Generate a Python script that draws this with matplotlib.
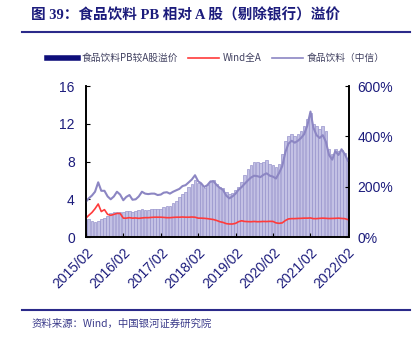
import numpy as np
import pandas as pd
import matplotlib
matplotlib.use("Agg")
import matplotlib.pyplot as plt
import matplotlib.dates as mdates
from matplotlib.lines import Line2D

plt.rcParams['font.family'] = ['Liberation Sans', 'Noto Sans CJK SC', 'DejaVu Sans']

# monthly, 2015/02 .. 2022/02
dates = pd.date_range('2015-02-01', periods=85, freq='MS')

food_pb = [3.74, 4.1, 4.4, 4.8, 5.8, 4.9, 4.9, 4.3, 4.0, 4.3, 4.8, 4.5,
           3.9, 4.25, 4.45, 3.95, 4.0, 4.3, 4.8, 4.6, 4.55, 4.6, 4.6, 4.45,
           4.5, 4.7, 4.75, 4.6, 4.8, 4.95, 5.1, 5.4, 5.5, 5.8, 6.1, 6.55,
           5.9, 5.7, 5.3, 5.5, 5.9, 5.9, 5.5, 5.2, 5.0, 4.4, 4.1, 4.3,
           4.6, 5.0, 5.3, 5.65, 6.0, 6.3, 6.5, 6.45, 6.35, 6.6, 6.75, 6.5,
           6.4, 6.2, 6.8, 7.5, 9.0, 9.9, 10.2, 10.0, 10.2, 10.5, 10.9, 11.8,
           13.3, 11.6, 10.8, 10.5, 10.8, 10.1, 8.7, 8.2, 9.1, 8.7, 9.3, 8.8,
           8.1]

wind_a_pb = [2.0, 2.3, 2.6, 3.0, 3.5, 2.7, 2.9, 2.4, 2.3, 2.4, 2.5, 2.5,
             2.0, 2.0, 2.05, 2.0, 2.02, 1.98, 2.02, 2.05, 2.05, 2.08, 2.1, 2.1,
             2.1, 2.08, 2.05, 2.05, 2.08, 2.1, 2.1, 2.12, 2.1, 2.1, 2.12, 2.1,
             2.0, 2.0, 1.98, 1.95, 1.9, 1.85, 1.75, 1.62, 1.55, 1.42, 1.38, 1.38,
             1.45, 1.62, 1.72, 1.65, 1.63, 1.62, 1.65, 1.62, 1.63, 1.65, 1.64, 1.66,
             1.65, 1.5, 1.45, 1.5, 1.75, 1.92, 1.95, 1.95, 1.97, 1.98, 2.0, 2.0,
             2.02, 1.95, 1.95, 1.98, 2.0, 1.98, 1.96, 1.97, 1.98, 2.0, 1.97, 1.95,
             1.85]

premium = [68, 70, 65, 60, 62, 70, 75, 85, 95, 100, 100, 98,
           100, 102, 105, 100, 103, 108, 110, 108, 106, 110, 112, 110,
           112, 118, 122, 125, 135, 145, 160, 170, 180, 200, 210, 225,
           215, 210, 195, 205, 220, 225, 210, 200, 195, 180, 170, 175,
           185, 200, 220, 245, 270, 285, 300, 300, 295, 300, 305, 290,
           285, 280, 290, 330, 380, 400, 410, 400, 410, 420, 440, 470,
           495, 450, 440, 430, 440, 420, 350, 330, 350, 340, 345, 335,
           310]

navy = '#1c1c7c'
fig = plt.figure(figsize=(4.15, 3.43), dpi=100)
ax = fig.add_axes([0.207, 0.309, 0.634, 0.44])
ax2 = ax.twinx()
ax.set_zorder(ax2.get_zorder() + 1)
ax.patch.set_visible(False)

ax2.bar(dates, premium, width=26, color='#c3c1e4', edgecolor='#9894cc', linewidth=0.5)
ax.plot(dates, wind_a_pb, color='#ff3b3b', lw=1.2)
ax.plot(dates, food_pb, color='#8c86c3', lw=1.5)

ax.set_ylim(0, 16)
ax.set_yticks([0, 4, 8, 12, 16])
ax2.set_ylim(0, 600)
ax2.set_yticks([0, 200, 400, 600])
ax2.set_yticklabels(['0%', '200%', '400%', '600%'])
ax.set_xlim(pd.Timestamp('2015-02-01'), pd.Timestamp('2022-02-12'))
ticks = pd.date_range('2015-02-01', '2022-02-01', freq='12MS')
ax.set_xticks(ticks)
ax.set_xticklabels([d.strftime('%Y/%m') for d in ticks], rotation=45,
                   ha='right', rotation_mode='anchor')

for a in (ax, ax2):
    a.spines['top'].set_visible(False)
    for s in ('left', 'right', 'bottom'):
        a.spines[s].set_color('black')
        a.spines[s].set_linewidth(1.2)
    a.tick_params(direction='in', length=3, labelsize=10, colors='black',
                  labelcolor=navy, pad=4)
ax.tick_params(axis='y', pad=8)
ax2.tick_params(axis='y', pad=6)
ax.tick_params(axis='x', pad=6)

# title and rules
fig.text(0.075, 0.955, '图 39：食品饮料 PB 相对 A 股（剔除银行）溢价', fontsize=10.5,
         fontweight='bold', color=navy, va='center',
         family=['Liberation Serif', 'Noto Sans CJK SC', 'DejaVu Sans'])
fig.add_artist(Line2D([0.053, 0.988], [0.907, 0.907], color='#2b2a8a', lw=1.5))
fig.add_artist(Line2D([0.053, 0.988], [0.096, 0.096], color='#2b2a8a', lw=1.5))
fig.text(0.075, 0.055, '资料来源：Wind，中国银河证券研究院', fontsize=7.5,
         style='italic', color='#3a3a8a', va='center',
         family=['Noto Sans CJK SC', 'DejaVu Sans'])

handles = [Line2D([], [], color='#0e0e7a', lw=4),
           Line2D([], [], color='#ff3b3b', lw=1.2),
           Line2D([], [], color='#8c86c3', lw=1.2)]
labels = ['食品饮料PB较A股溢价', 'Wind全A', '食品饮料（中信）']
fig.legend(handles, labels, loc='center', bbox_to_anchor=(0.52, 0.83), ncol=3,
           frameon=False, fontsize=7, handlelength=3.2, columnspacing=1.0,
           handletextpad=0.4, labelcolor='#404060',
           prop={'family': ['Noto Sans CJK SC', 'DejaVu Sans'], 'size': 7})

fig.savefig('out.png', dpi=100)
